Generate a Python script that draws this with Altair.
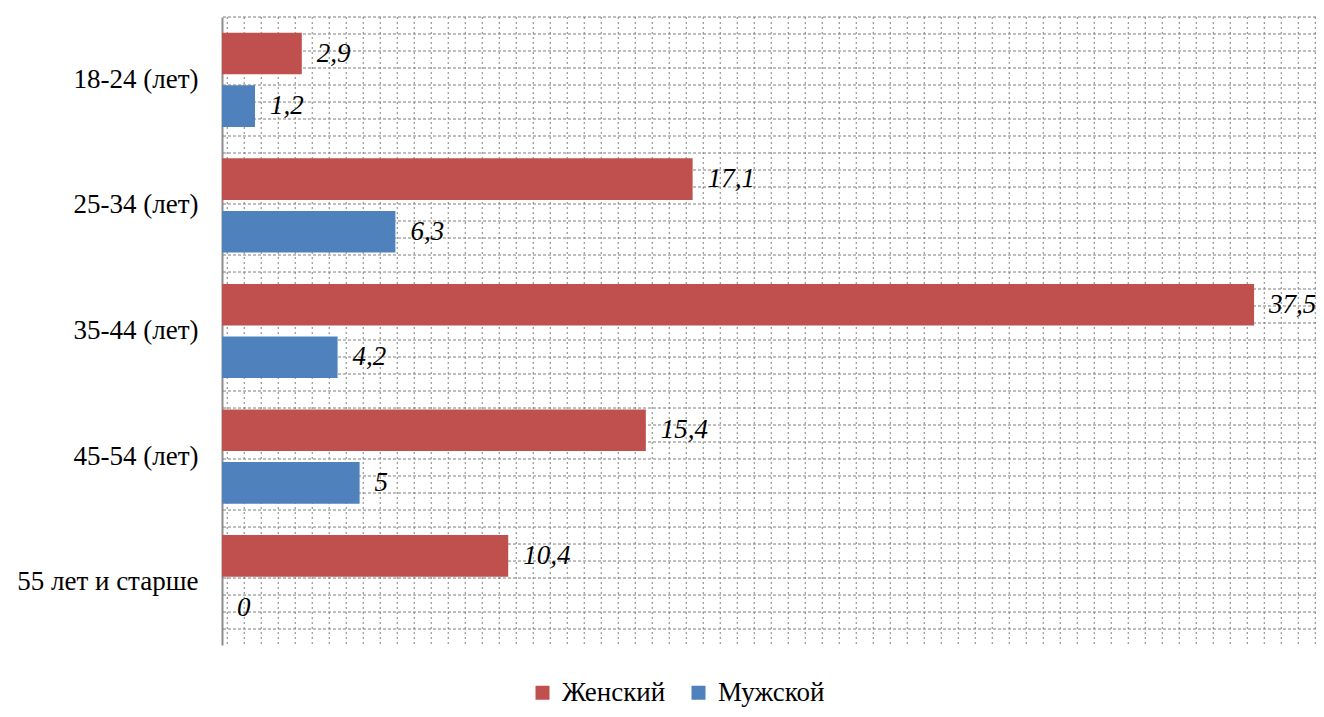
import altair as alt
import pandas as pd

ages = ["18-24 (лет)", "25-34 (лет)", "35-44 (лет)", "45-54 (лет)", "55 лет и старше"]
female = [2.9, 17.1, 37.5, 15.4, 10.4]
male = [1.2, 6.3, 4.2, 5, 0]
series = ["Женский", "Мужской"]
colors = ["#C0504D", "#4F81BD"]

rows = []
for a, f, m in zip(ages, female, male):
    rows.append({"age": a, "sex": series[0], "v": f})
    rows.append({"age": a, "sex": series[1], "v": m})
df = pd.DataFrame(rows)
df["label"] = df["v"].map(lambda v: f"{v:g}".replace(".", ","))

XMAX = 39.75
grid_x = pd.DataFrame({"gx": [round(0.19 + 0.6177 * k, 4) for k in range(65)]})
grid_y = pd.DataFrame({"gy": list(range(37))})
GRID_COLOR = "#7f7f7f"
FONT = "Liberation Serif"

x_scale = alt.Scale(domain=[0, XMAX], nice=False, zero=True)

yoff = alt.YOffset("sex:N", sort=series,
                   scale=alt.Scale(paddingInner=0.209, paddingOuter=0.2985))
y_enc = alt.Y("age:N", sort=ages,
              scale=alt.Scale(paddingInner=0, paddingOuter=0),
              axis=alt.Axis(title=None, labelFont=FONT, labelFontSize=27,
                            labelColor="black", labelPadding=24, ticks=False,
                            domainColor="#8c8c8c", domainWidth=2, grid=False,
                            labelLimit=300))
x_enc = alt.X("v:Q", scale=x_scale, axis=None)
color = alt.Color("sex:N", sort=series,
                  scale=alt.Scale(domain=series, range=colors),
                  legend=alt.Legend(title=None, orient="none", legendX=307,
                                    legendY=662, direction="horizontal",
                                    symbolType="square", symbolSize=196,
                                    symbolStrokeWidth=0, labelFont=FONT,
                                    labelFontSize=27, labelColor="black",
                                    columnPadding=19, labelOffset=6))

vgrid = alt.Chart(grid_x).mark_rule(strokeDash=[2, 3], color=GRID_COLOR, strokeWidth=1).encode(
    x=alt.X("gx:Q", scale=x_scale, axis=None)
)

hgrid = alt.Chart(grid_y).mark_rule(strokeDash=[3, 2], color=GRID_COLOR, strokeWidth=1).encode(
    y=alt.Y("gy:Q", scale=alt.Scale(domain=[0, 36.94], reverse=True, nice=False, zero=False),
            axis=None)
)

bars = alt.Chart(df).mark_bar().encode(y=y_enc, x=x_enc, yOffset=yoff, color=color)

text = alt.Chart(df).mark_text(align="left", baseline="middle", dx=15, font=FONT,
                               fontSize=27, fontStyle="italic", color="black").encode(
    y=alt.Y("age:N", sort=ages), x=alt.X("v:Q", scale=x_scale, axis=None),
    yOffset=yoff, text="label:N"
)

main = alt.layer(vgrid, bars, text)

chart = alt.layer(hgrid, main).resolve_scale(y="independent").properties(
    width=1094, height=628,
    autosize=alt.AutoSizeParams(type="none"),
    padding={"left": 214, "top": 9, "right": 0, "bottom": 64},
).configure_view(stroke=None)

chart.save("out.html", embed_options={"renderer": "svg", "actions": False})
